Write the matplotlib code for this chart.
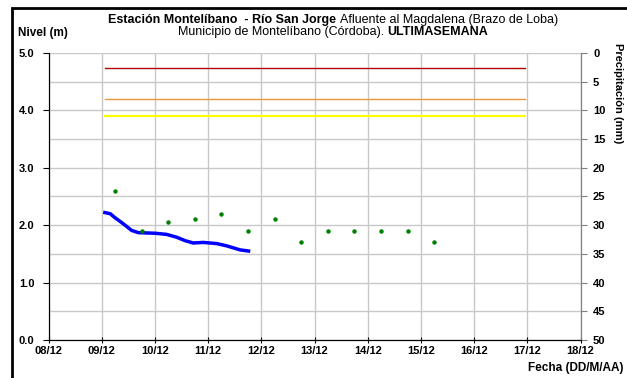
import matplotlib
matplotlib.use("Agg")
import matplotlib.pyplot as plt
from matplotlib.patches import Rectangle

plt.rcParams["font.family"] = ["Liberation Sans", "DejaVu Sans"]

# --- datos (dia de diciembre, fraccion = hora) ---
dias_ticks = list(range(8, 19))
etiquetas_x = ["%02d/12" % d for d in dias_ticks]

nivel_dia = [9.06, 9.16, 9.25, 9.34, 9.44, 9.56, 9.69, 10.0, 10.22, 10.41,
             10.57, 10.72, 10.91, 11.16, 11.35, 11.6, 11.76]
nivel_m = [2.22, 2.20, 2.13, 2.07, 2.00, 1.91, 1.87, 1.86, 1.84, 1.79,
           1.73, 1.69, 1.70, 1.68, 1.64, 1.57, 1.55]

precip_dia = [9.25, 9.75, 10.25, 10.75, 11.25, 11.75, 12.25, 12.75,
              13.25, 13.75, 14.25, 14.75, 15.25]
precip_mm = [24, 31, 29.5, 29, 28, 31, 29, 33, 31, 31, 31, 31, 33]

umbral_dia = [9.07, 16.95]
umbral_rojo = 4.73
umbral_naranja = 4.2
umbral_amarillo = 3.9

W, H = 627, 378
fig = plt.figure(figsize=(W / 100, H / 100), dpi=100)
ax = fig.add_axes([48.5 / W, 1 - 340 / H, 532 / W, 287 / H])
ax2 = ax.twinx()

# lineas de alerta
ax.plot(umbral_dia, [umbral_rojo] * 2, color="#b00000", lw=1.0, zorder=3)
ax.plot(umbral_dia, [umbral_naranja] * 2, color="#e8973a", lw=1.0, zorder=3)
ax.plot(umbral_dia, [umbral_amarillo] * 2, color="#ffff00", lw=1.6, zorder=3)

# nivel
ax.plot(nivel_dia, nivel_m, color="#0000ff", lw=2.5, zorder=4)

# precipitacion (eje derecho invertido)
ax2.plot(precip_dia, precip_mm, ls="none", marker="o", ms=2.2,
         color="#008000", zorder=4)

ax.set_xlim(8, 18)
ax.set_ylim(0, 5)
ax2.set_ylim(50, 0)

ax.set_xticks(dias_ticks)
ax.set_xticklabels(etiquetas_x)
ax.set_yticks([0, 1, 2, 3, 4, 5])
ax.set_yticklabels(["0.0", "1.0", "2.0", "3.0", "4.0", "5.0"])
ax.set_yticks([0.5 * i for i in range(11)], minor=True)
ax2.set_yticks(list(range(0, 55, 5)))

ax.grid(True, which="both", color="#c8c8c8", lw=1.0)
ax.set_axisbelow(True)

for a in (ax, ax2):
    for lab in a.get_xticklabels() + a.get_yticklabels():
        lab.set_fontweight("bold")
        lab.set_fontsize(8)

ax.tick_params(axis="x", direction="inout", length=5, color="black", pad=2)
ax.tick_params(axis="y", which="major", direction="out", length=4, color="black", pad=6)
ax.tick_params(axis="y", which="minor", length=0)
ax2.tick_params(axis="y", direction="out", length=4, color="#808080", pad=5)

for a in (ax, ax2):
    a.spines["top"].set_visible(False)
    a.spines["left"].set_color("black")
    a.spines["bottom"].set_color("black")
    a.spines["right"].set_color("#808080")

# textos
fig.text(18 / W, 1 - 33 / H, "Nivel (m)", fontsize=8.5, fontweight="bold",
         ha="left", va="center")
fig.text(613 / W, 1 - 43 / H, "Precipitación (mm)", fontsize=8, fontweight="bold",
         rotation=270, ha="left", va="top")
fig.text(623 / W, 1 - 368 / H, "Fecha (DD/M/AA)", fontsize=8.5, fontweight="bold",
         ha="right", va="center")

renderer = fig.canvas.get_renderer()


def titulo_mixto(partes, cx, cy):
    """Escribe una linea centrada con tramos en negrita y normales."""
    textos = [fig.text(0, cy / H, t, fontsize=9, fontweight=w, va="center")
              for t, w in partes]
    anchos = [t.get_window_extent(renderer).width for t in textos]
    x = cx - sum(anchos) / 2
    for t, a in zip(textos, anchos):
        t.set_x(x / W)
        x += a


titulo_mixto([("Estación Montelíbano  - Río San Jorge ", "bold"),
              ("Afluente al Magdalena (Brazo de Loba)", "normal")],
             333, H - 20)
titulo_mixto([("Municipio de Montelíbano (Córdoba). ", "normal"),
              ("ULTIMASEMANA", "bold")],
             333, H - 32)

# marco exterior (el borde derecho e inferior quedan fuera de la imagen)
fig.patches.append(Rectangle((12 / W, -0.05), 1.0, 1.05 - 8 / H,
                             transform=fig.transFigure, fill=False,
                             ec="black", lw=2))

fig.savefig("out.png", dpi=100)
